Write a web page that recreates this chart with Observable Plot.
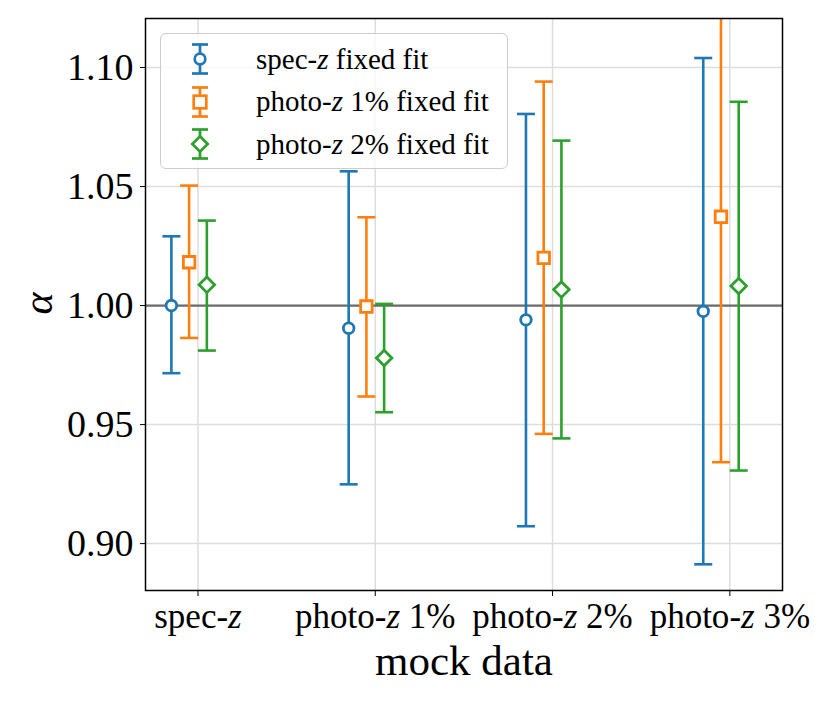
<!DOCTYPE html>
<html>
<head>
<meta charset="utf-8">
<script src="https://cdn.jsdelivr.net/npm/d3@7"></script>
<script src="https://cdn.jsdelivr.net/npm/@observablehq/plot@0.6"></script>
<style>
  body { margin: 0; background: #fff; }
  #wrap { position: relative; width: 830px; height: 703px; font-family: "Liberation Serif", "DejaVu Serif", serif; }
  #legend {
    position: absolute; left: 160px; top: 33px; width: 348px; height: 136px;
    border: 1.5px solid #cccccc; border-radius: 6px; background: rgba(255,255,255,0.8);
    box-sizing: border-box;
  }
  .row { position: absolute; left: 0; height: 34px; display: flex; align-items: center; }
  .row svg { margin-left: 24px; }
  .row span { font-size: 29px; margin-left: 41px; color: #000; white-space: nowrap; }
</style>
</head>
<body>
<div id="wrap"></div>
<script>
const categories = ["spec-z", "photo-z 1%", "photo-z 2%", "photo-z 3%"];
const seriesNames = ["spec-z fixed fit", "photo-z 1% fixed fit", "photo-z 2% fixed fit"];
const seriesColors = ["#1f77b4", "#ff7f0e", "#2ca02c"];
const seriesSymbols = ["circle", "square", "diamond2"];

const centerSpec = [1.0000, 0.9905, 0.9940, 0.9976];
const lowSpec    = [0.9716, 0.9249, 0.9073, 0.8913];
const highSpec   = [1.0291, 1.0564, 1.0805, 1.1040];

const centerP1 = [1.0182, 0.9996, 1.0200, 1.0373];
const lowP1    = [0.9864, 0.9618, 0.9461, 0.9342];
const highP1   = [1.0504, 1.0371, 1.0941, 1.1404];

const centerP2 = [1.0087, 0.9780, 1.0067, 1.0082];
const lowP2    = [0.9811, 0.9552, 0.9442, 0.9307];
const highP2   = [1.0357, 1.0007, 1.0693, 1.0856];

const yTicks = [0.90, 0.95, 1.00, 1.05, 1.10];
const referenceValue = 1.0;

// build table
const seriesCenters = [centerSpec, centerP1, centerP2];
const seriesLows = [lowSpec, lowP1, lowP2];
const seriesHighs = [highSpec, highP1, highP2];
const offsets = [-0.15, -0.05, 0.05];
const rows = [];
seriesNames.forEach((s, si) => {
  categories.forEach((c, ci) => {
    rows.push({series: s, si, x: ci + offsets[si], y: seriesCenters[si][ci], lo: seriesLows[si][ci], hi: seriesHighs[si][ci]});
  });
});

const capSymbol = {
  draw(ctx, size) {
    const w = Math.sqrt(size / Math.PI);
    ctx.moveTo(-w, 0); ctx.lineTo(w, 0);
  }
};
const markerR = [5.3, 6.5, 7.0];

const marks = [
  Plot.gridX(categories.map((c, i) => i), {stroke: "#dddddd", strokeOpacity: 1, strokeWidth: 1.5}),
  Plot.gridY(yTicks, {stroke: "#dddddd", strokeOpacity: 1, strokeWidth: 1.5}),
  Plot.ruleY([referenceValue], {stroke: "#6b6b6b", strokeWidth: 2.2}),
];
seriesNames.forEach((s, si) => {
  const d = rows.filter(r => r.si === si);
  marks.push(
    Plot.ruleX(d, {x: "x", y1: "lo", y2: "hi", stroke: seriesColors[si], strokeWidth: 2.6, clip: true}),
    Plot.dot(d, {x: "x", y: "lo", symbol: capSymbol, r: 9, stroke: seriesColors[si], strokeWidth: 2.6, fill: "none", clip: true}),
    Plot.dot(d, {x: "x", y: "hi", symbol: capSymbol, r: 9, stroke: seriesColors[si], strokeWidth: 2.6, fill: "none", clip: true}),
    Plot.dot(d, {x: "x", y: "y", symbol: seriesSymbols[si], r: markerR[si], stroke: seriesColors[si], strokeWidth: 2.8, fill: "white"})
  );
});
marks.push(
  Plot.axisY(yTicks, {tickSize: 5, tickPadding: 7, fontSize: 38, tickFormat: d3.format(".2f"), label: null, stroke: "black"}),
  Plot.axisX(categories.map((c, i) => i), {tickSize: 6, tickPadding: 7, fontSize: 35, tickFormat: i => categories[i], label: null, stroke: "black"}),
  Plot.text(["α"], {frameAnchor: "left", lineAnchor: "middle", dx: -107, dy: 10, rotate: -90, fontSize: 42, fontStyle: "italic"}),
  Plot.text(["mock data"], {frameAnchor: "bottom", lineAnchor: "middle", dy: 71, fontSize: 43}),
  Plot.frame({stroke: "black", strokeWidth: 1.5})
);

const chart = Plot.plot({
  width: 830,
  height: 703,
  marginLeft: 145,
  marginRight: 48,
  marginTop: 18,
  marginBottom: 113,
  style: {fontFamily: '"Liberation Serif", "DejaVu Serif", serif', color: "black", background: "white"},
  x: {type: "linear", domain: [-0.296, 3.297]},
  y: {domain: [0.8803, 1.1206]},
  marks
});

// italicize the "z" in category labels
function italicizeZ(textEl) {
  const t = textEl.textContent;
  if (!t.includes("-z")) return;
  textEl.textContent = "";
  const parts = t.split(/(-z)/);
  parts.forEach(p => {
    if (p === "-z") {
      const a = document.createElementNS("http://www.w3.org/2000/svg", "tspan");
      a.textContent = "-";
      textEl.appendChild(a);
      const b = document.createElementNS("http://www.w3.org/2000/svg", "tspan");
      b.textContent = "z";
      b.setAttribute("font-style", "italic");
      textEl.appendChild(b);
    } else if (p) {
      const a = document.createElementNS("http://www.w3.org/2000/svg", "tspan");
      a.textContent = p;
      textEl.appendChild(a);
    }
  });
}
chart.querySelectorAll("text").forEach(italicizeZ);

const wrap = document.getElementById("wrap");
wrap.appendChild(chart);

// legend
const legend = document.createElement("div");
legend.id = "legend";
const symPaths = {
  circle: `<circle cx="15" cy="17" r="5.3" fill="white"/>`,
  square: `<rect x="8.7" y="10.7" width="12.6" height="12.6" fill="white"/>`,
  diamond2: `<path d="M15 9.3 L22.7 17 L15 24.7 L7.3 17 Z" fill="white"/>`
};
seriesNames.forEach((s, si) => {
  const row = document.createElement("div");
  row.className = "row";
  row.style.top = (8 + si * 42.5) + "px";
  const label = s.replace("-z", '-<i>z</i>');
  row.innerHTML = `<svg width="30" height="34" viewBox="0 0 30 34">
    <g stroke="${seriesColors[si]}" stroke-width="2.7" fill="none">
      <line x1="15" y1="2.5" x2="15" y2="31.5"/>
      <line x1="7" y1="2.5" x2="23" y2="2.5"/>
      <line x1="7" y1="31.5" x2="23" y2="31.5"/>
      ${symPaths[seriesSymbols[si]]}
    </g></svg><span>${label}</span>`;
  legend.appendChild(row);
});
wrap.appendChild(legend);
</script>
</body>
</html>
